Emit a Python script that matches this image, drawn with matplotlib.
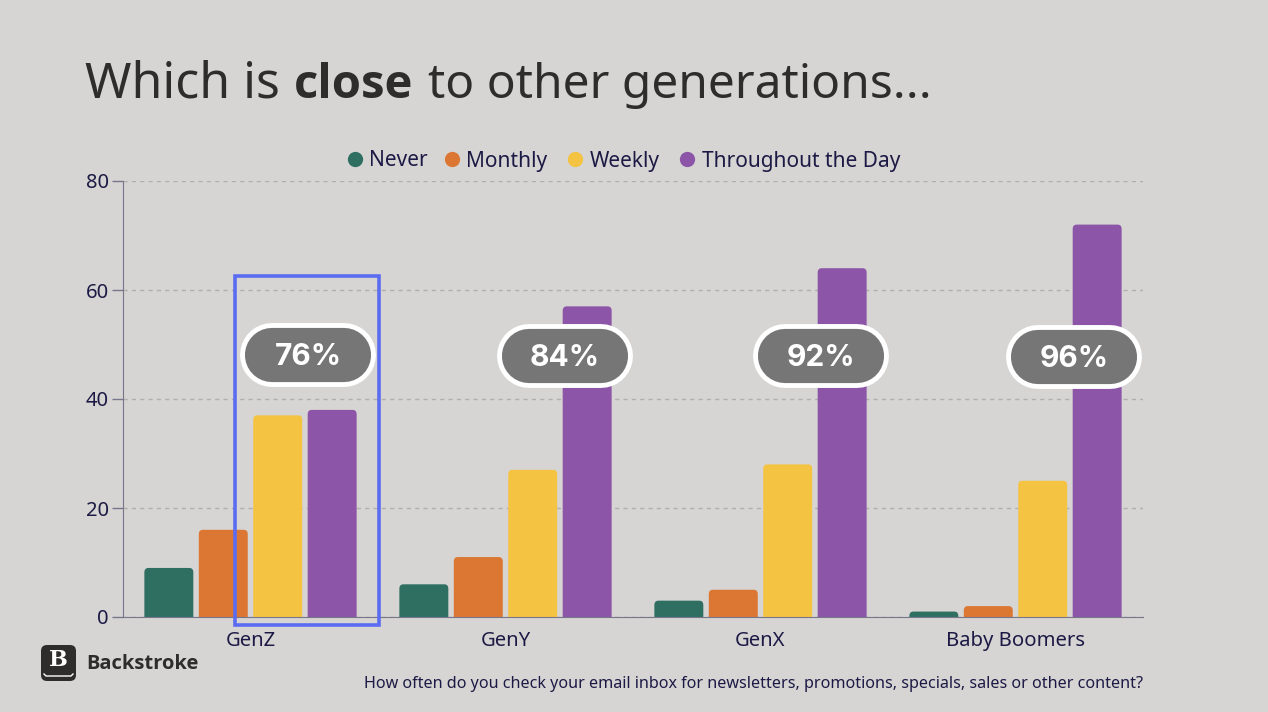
import matplotlib
matplotlib.use('Agg')
import matplotlib.pyplot as plt
from matplotlib.patches import FancyBboxPatch, Rectangle

generations = ['GenZ', 'GenY', 'GenX', 'Baby Boomers']
series_names = ['Never', 'Monthly', 'Weekly', 'Throughout the Day']
never = [9, 6, 3, 1]
monthly = [16, 11, 5, 2]
weekly = [37, 27, 28, 25]
throughout = [38, 57, 64, 72]
pill_labels = ['76%', '84%', '92%', '96%']
y_ticks = [0, 20, 40, 60, 80]

colors = ['#2f6f62', '#dc7733', '#f5c342', '#8c55a8']
bg = '#d6d5d3'
ink = '#1c1a45'
W, H = 1268, 712

plt.rcParams['font.family'] = ['Noto Sans', 'DejaVu Sans']

fig = plt.figure(figsize=(W / 100, H / 100), dpi=100, facecolor=bg)
ax = fig.add_axes([123 / W, 1 - 617 / H, 1020 / W, 436 / H], facecolor='none')

# Bars, rounded at the top only (the bottom corners are clipped by the axes)
bar_w = 0.192
step = 0.2135
ax.set_xlim(-0.5, 3.5)
ax.set_ylim(0, 80)
rx = 0.016
ry = 0.8
for s, values in enumerate([never, monthly, weekly, throughout]):
    for i, v in enumerate(values):
        left = i + (s - 1.5) * step - bar_w / 2
        patch = FancyBboxPatch((left, -2), bar_w, v + 2,
                               boxstyle=f'round,pad=0,rounding_size={rx}',
                               mutation_aspect=ry / rx,
                               facecolor=colors[s], edgecolor='none', zorder=3)
        ax.add_patch(patch)

ax.set_yticks(y_ticks)
ax.set_xticks(range(len(generations)))
ax.set_xticklabels(generations)
ax.tick_params(axis='y', length=8, width=1, color='#77768a', labelsize=14.5,
               labelcolor=ink, pad=2)
ax.tick_params(axis='x', length=0, labelsize=14.6, labelcolor=ink, pad=10)
ax.grid(axis='y', linestyle=(0, (3, 3)), color='#b0afae', linewidth=1, zorder=0)
for name in ['top', 'right']:
    ax.spines[name].set_visible(False)
for name in ['left', 'bottom']:
    ax.spines[name].set_color('#77768a')
    ax.spines[name].set_zorder(4)

# Overlay in pixel coordinates for title, legend, pills and logo
ov = fig.add_axes([0, 0, 1, 1], facecolor='none')
ov.set_xlim(0, W)
ov.set_ylim(H, 0)
ov.axis('off')

# Title pieces placed one by one so the bold word lines up
for x, part, weight, fam, size in [(85, 'Which is', 'normal', 'Noto Sans', 36),
                                   (294, 'close', 'bold', 'Open Sans', 34),
                                   (428, 'to other generations...', 'normal', 'Noto Sans', 34.5)]:
    ov.text(x, 98, part, fontsize=size, fontweight=weight, family=fam,
            color='#2e2d2b', ha='left', va='baseline')

legend_x = [(354.5, 369), (452, 466), (574.5, 590), (687, 702)]
for (dot, label_x), name, c in zip(legend_x, series_names, colors):
    ov.plot(dot, 159, 'o', ms=11, color=c, mec='none')
    ov.text(label_x, 161, name, fontsize=15, color=ink, ha='left', va='center')

# Highlight box around GenZ
ov.add_patch(Rectangle((235, 276), 144, 349, fill=False, edgecolor='#5b6cf2', lw=2.6, zorder=5))

# Pills are thick round-capped lines
pill_centers = [(308, 355), (565, 356), (821, 356), (1074, 357)]
for (cx, cy), label in zip(pill_centers, pill_labels):
    ov.plot([cx - 36, cx + 36], [cy, cy], color='white', lw=46, solid_capstyle='round', zorder=6)
    ov.plot([cx - 36, cx + 36], [cy, cy], color='#767676', lw=39, solid_capstyle='round', zorder=6)
    ov.text(cx, cy + 2, label, fontsize=21.5, fontweight='bold', color='white', family='Inter',
            ha='center', va='center', zorder=7)

# Logo
ov.add_patch(FancyBboxPatch((41, 645), 35, 36, boxstyle='round,pad=0,rounding_size=6',
                            facecolor='#2e2d2b', edgecolor='none'))
ov.text(58.5, 660, 'B', fontsize=16, fontweight='bold', color='white', family='DejaVu Serif',
        ha='center', va='center')
ov.plot([44, 46, 71, 73], [674, 676, 676, 674], color='white', lw=1)
ov.text(86, 664, 'Backstroke', fontsize=14.5, fontweight='bold', color='#2e2d2b', family='Open Sans',
        ha='left', va='center')

ov.text(1143, 683.5, 'How often do you check your email inbox for newsletters, promotions, specials, sales or other content?',
        fontsize=11.6, color=ink, ha='right', va='center')

fig.savefig('out.png', dpi=100, facecolor=bg)
